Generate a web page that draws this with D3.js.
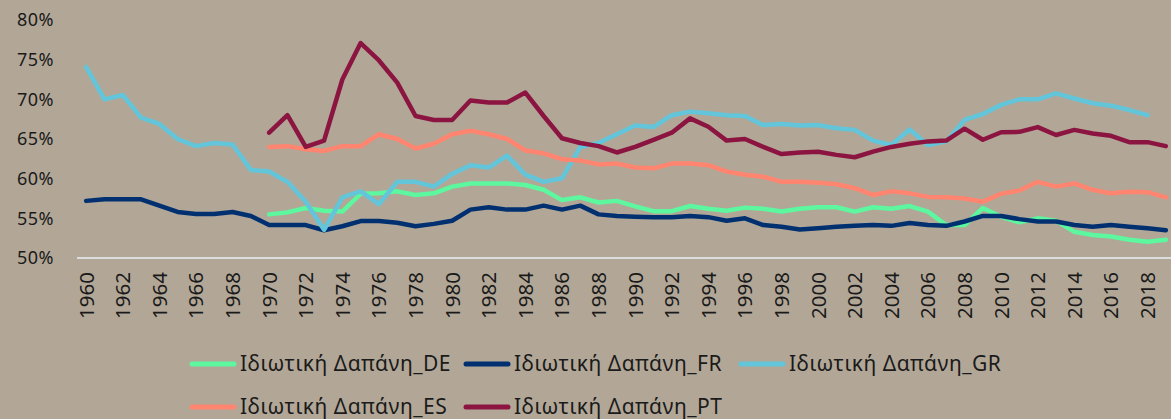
<!DOCTYPE html>
<html><head><meta charset="utf-8">
<script src="https://cdn.jsdelivr.net/npm/d3@7"></script>
<style>
html,body{margin:0;padding:0;background:#b2a797;}
svg{display:block;}
text{font-family:"Noto Sans","DejaVu Sans",sans-serif;fill:#1a1a1a;}
</style></head>
<body><svg id="c" width="1171" height="419"></svg>
<script>
const years = d3.range(1960, 2020);
const yTicks = [0.50, 0.55, 0.60, 0.65, 0.70, 0.75, 0.80];
const seriesNames = ["Ιδιωτική Δαπάνη_DE","Ιδιωτική Δαπάνη_FR","Ιδιωτική Δαπάνη_GR","Ιδιωτική Δαπάνη_ES","Ιδιωτική Δαπάνη_PT"];
const seriesColors = ["#5cf79e","#003070","#63c5da","#ff8570","#8b1540"];
// values in %, starting year for each series
const startDE = 1970;
const valDE = [55.5,55.75,56.3,55.95,55.85,58.1,58.15,58.4,57.95,58.15,
  59.0,59.4,59.4,59.4,59.2,58.6,57.3,57.65,57.0,57.2,
  56.5,55.9,55.9,56.55,56.2,55.95,56.35,56.2,55.85,56.2,
  56.4,56.4,55.85,56.4,56.2,56.55,55.85,54.15,54.15,56.3,
  55.2,54.5,55.0,54.7,53.3,52.9,52.7,52.3,52.05,52.3];
const startFR = 1960;
const valFR = [57.2,57.4,57.4,57.4,56.6,55.8,55.55,55.55,55.8,55.3,
  54.15,54.15,54.15,53.5,54.0,54.65,54.65,54.45,54.0,54.3,
  54.7,56.1,56.4,56.1,56.1,56.6,56.1,56.6,55.5,55.3,
  55.2,55.15,55.15,55.3,55.15,54.7,55.0,54.15,53.95,53.6,
  53.75,53.95,54.05,54.15,54.05,54.4,54.15,54.05,54.6,55.3,
  55.3,54.9,54.6,54.6,54.15,53.95,54.15,53.95,53.75,53.5];
const startGR = 1960;
const valGR = [74.05,70.0,70.55,67.7,66.9,65.0,64.1,64.5,64.3,61.1,
  60.9,59.6,57.1,53.55,57.65,58.4,56.8,59.6,59.6,59.0,
  60.6,61.7,61.4,62.9,60.5,59.6,60.05,64.0,64.5,65.6,
  66.7,66.5,68.0,68.45,68.25,68.0,67.9,66.75,66.9,66.7,
  66.75,66.35,66.15,64.8,64.25,66.2,64.25,64.7,67.4,68.15,
  69.3,70.0,70.0,70.75,70.1,69.5,69.2,68.65,68.0];
const startES = 1970;
const valES = [64.0,64.1,63.7,63.5,64.1,64.1,65.6,65.0,63.8,64.4,
  65.6,66.05,65.6,65.0,63.55,63.2,62.45,62.3,61.8,61.9,
  61.4,61.3,61.9,61.9,61.7,60.9,60.5,60.25,59.6,59.6,
  59.5,59.3,58.8,57.95,58.4,58.15,57.7,57.65,57.5,57.1,
  58.1,58.5,59.6,59.0,59.4,58.6,58.15,58.35,58.3,57.65];
const startPT = 1970;
const valPT = [65.8,68.0,64.0,64.8,72.5,77.1,74.9,72.1,67.9,67.4,
  67.4,69.85,69.6,69.6,70.85,67.9,65.1,64.5,64.1,63.3,
  64.0,64.9,65.8,67.6,66.55,64.8,65.0,64.0,63.1,63.3,
  63.4,63.0,62.7,63.4,64.0,64.4,64.7,64.8,66.3,64.9,
  65.85,65.9,66.5,65.5,66.15,65.7,65.4,64.6,64.6,64.1];

const starts = [startDE,startFR,startGR,startES,startPT];
const vals = [valDE,valFR,valGR,valES,valPT];
const series = seriesNames.map((n,i)=>({name:n,color:seriesColors[i],
  pts: vals[i].map((v,j)=>({year:starts[i]+j, v:v/100}))}));

const svg = d3.select("#c");
const x = d3.scaleBand().domain(years).range([77, 1175]);
const y = d3.scaleLinear().domain([0.5,0.8]).range([258,20]);
const cx = d=>x(d)+x.bandwidth()/2;

// y labels
svg.append("g").selectAll("text").data(yTicks).join("text")
  .attr("x",54).attr("y",d=>y(d)).attr("dy","0.35em")
  .attr("text-anchor","end").style("font-size","18px").style("letter-spacing","0.5px")
  .text(d=>d3.format(".0%")(d));

// x axis line
svg.append("line").attr("x1",77).attr("x2",1171).attr("y1",258).attr("y2",258)
  .attr("stroke","#dcdcdc").attr("stroke-width",2);

// x labels
const xLab = years.filter(d=>d%2===0);
svg.append("g").selectAll("text").data(xLab).join("text")
  .attr("transform",d=>`translate(${cx(d)},272) rotate(-90)`)
  .attr("text-anchor","end").attr("dy","0.36em").style("font-size","20.5px")
  .text(d=>d);

const line = d3.line().x(d=>cx(d.year)).y(d=>y(d.v));
svg.append("g").selectAll("path").data(series).join("path")
  .attr("d",d=>line(d.pts)).attr("fill","none").attr("stroke",d=>d.color)
  .attr("stroke-width",4.5).attr("stroke-linejoin","round").attr("stroke-linecap","round");

// legend
const legPos = [[190,364],[464,364],[739,364],[190,407],[464,407]];
const lg = svg.append("g").selectAll("g").data(series).join("g")
  .attr("transform",(d,i)=>`translate(${legPos[i][0]},${legPos[i][1]})`);
lg.append("line").attr("x1",2).attr("x2",44).attr("y1",0).attr("y2",0)
  .attr("stroke",d=>d.color).attr("stroke-width",5).attr("stroke-linecap","round");
lg.append("text").attr("x",50).attr("dy","0.35em").style("font-size","21px").style("letter-spacing","0.5px").text(d=>d.name);
</script></body></html>
